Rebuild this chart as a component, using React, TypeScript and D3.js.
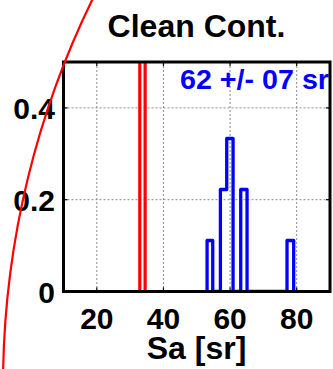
import React from "react";
import * as d3 from "d3";

// Histogram of lidar ratio (Sa) for the clean continental class
const title = "Clean Cont.";
const xLabel = "Sa [sr]";
const statsLabel = "62 +/- 07 sr";
const xTicks = [20, 40, 60, 80];
const yTicks = [0, 0.2, 0.4];
const yTickLabels = ["0", "0.2", "0.4"];

// Stair outline: bin edges and the relative frequency that starts at each edge
const blueEdges = [53.1, 54.8, 57.1, 59.0, 60.9, 63.2, 65.1, 77.1, 79.1];
const blueFreq = [1 / 9, 0, 2 / 9, 3 / 9, 0, 2 / 9, 0, 1 / 9, 0];

// Reference class outline (runs past the top of the axes)
const redEdges = [32.9, 34.5];
const redFreq = [1.0, 0];

const W = 333;
const H = 369;
const M = { left: 63.5, right: 330, top: 62, bottom: 291.5 };
const FONT = "'Liberation Sans', Arial, Helvetica, sans-serif";

export default function App() {
  const x = d3.scaleLinear().domain([10, 90]).range([M.left, M.right]);
  const y = d3.scaleLinear().domain([0, 0.5]).range([M.bottom, M.top]);

  const stairs = d3
    .line<[number, number]>()
    .x((d) => x(d[0]))
    .y((d) => y(d[1]))
    .curve(d3.curveStepAfter);

  const stairPoints = (edges: number[], freq: number[]): [number, number][] => [
    [edges[0], 0],
    ...edges.map((e, i) => [e, freq[i]] as [number, number]),
  ];

  // Large circled annotation: an arc of a big circle whose centre lies off to the right
  const cx = 883;
  const cy = 386;
  const r = 880;
  const a0 = Math.atan2(-12 - cy, 98 - cx);
  const a1 = Math.atan2(380 - cy, 0 - cx);
  const arc = d3.path();
  arc.moveTo(cx + r * Math.cos(a0), cy + r * Math.sin(a0));
  arc.arc(cx, cy, r, a0, a1 < 0 ? a1 + 2 * Math.PI : a1, true);

  const tickLen = 4;

  return (
    <svg
      width={W}
      height={H}
      style={{ position: "absolute", left: 0, top: 0, background: "#fff" }}
      fontFamily={FONT}
    >
      <defs>
        <clipPath id="plotArea">
          <rect x={M.left} y={M.top} width={M.right - M.left} height={M.bottom - M.top} />
        </clipPath>
      </defs>
      <rect x={0} y={0} width={W} height={H} fill="#fff" />

      {/* grid */}
      <g stroke="#8a8a8a" strokeWidth={1} strokeDasharray="2,2">
        {xTicks.map((t) => (
          <line key={"gx" + t} x1={x(t)} x2={x(t)} y1={M.top} y2={M.bottom} />
        ))}
        {yTicks
          .filter((t) => t > 0)
          .map((t) => (
            <line key={"gy" + t} x1={M.left} x2={M.right} y1={y(t)} y2={y(t)} />
          ))}
      </g>

      <g clipPath="url(#plotArea)">
        <path
          d={stairs(stairPoints(redEdges, redFreq)) || ""}
          fill="none"
          stroke="#ff0000"
          strokeWidth={3.2}
          strokeLinejoin="round"
        />
        <path
          d={stairs(stairPoints(blueEdges, blueFreq)) || ""}
          fill="none"
          stroke="#0000ff"
          strokeWidth={3.3}
          strokeLinejoin="round"
        />
      </g>

      <text
        x={180}
        y={89}
        fontSize={27}
        fontWeight="bold"
        fill="#0000ff"
        textLength={149}
        lengthAdjust="spacingAndGlyphs"
      >
        {statsLabel}
      </text>

      {/* ticks */}
      <g stroke="#000" strokeWidth={1.2}>
        {xTicks.map((t) => (
          <g key={"tx" + t}>
            <line x1={x(t)} x2={x(t)} y1={M.bottom} y2={M.bottom - tickLen} />
            <line x1={x(t)} x2={x(t)} y1={M.top} y2={M.top + tickLen} />
          </g>
        ))}
        {yTicks.map((t) => (
          <g key={"ty" + t}>
            <line x1={M.left} x2={M.left + tickLen} y1={y(t)} y2={y(t)} />
            <line x1={M.right} x2={M.right - tickLen} y1={y(t)} y2={y(t)} />
          </g>
        ))}
      </g>

      {/* axes box */}
      <rect
        x={M.left}
        y={M.top}
        width={M.right - M.left}
        height={M.bottom - M.top}
        fill="none"
        stroke="#000"
        strokeWidth={3}
      />

      {/* tick labels */}
      <g fontSize={30} fontWeight="bold" fill="#000">
        {xTicks.map((t) => (
          <text key={"lx" + t} x={x(t)} y={329} textAnchor="middle">
            {t}
          </text>
        ))}
        {yTicks.map((t, i) => (
          <text key={"ly" + t} x={55} y={y(t) + 11} textAnchor="end">
            {yTickLabels[i]}
          </text>
        ))}
      </g>

      <text x={196.5} y={37} fontSize={32} fontWeight="bold" textAnchor="middle" fill="#000">
        {title}
      </text>
      <text x={196.5} y={359} fontSize={32} fontWeight="bold" textAnchor="middle" fill="#000">
        {xLabel}
      </text>

      <path d={arc.toString()} fill="none" stroke="#ff0000" strokeWidth={2.2} />
    </svg>
  );
}
